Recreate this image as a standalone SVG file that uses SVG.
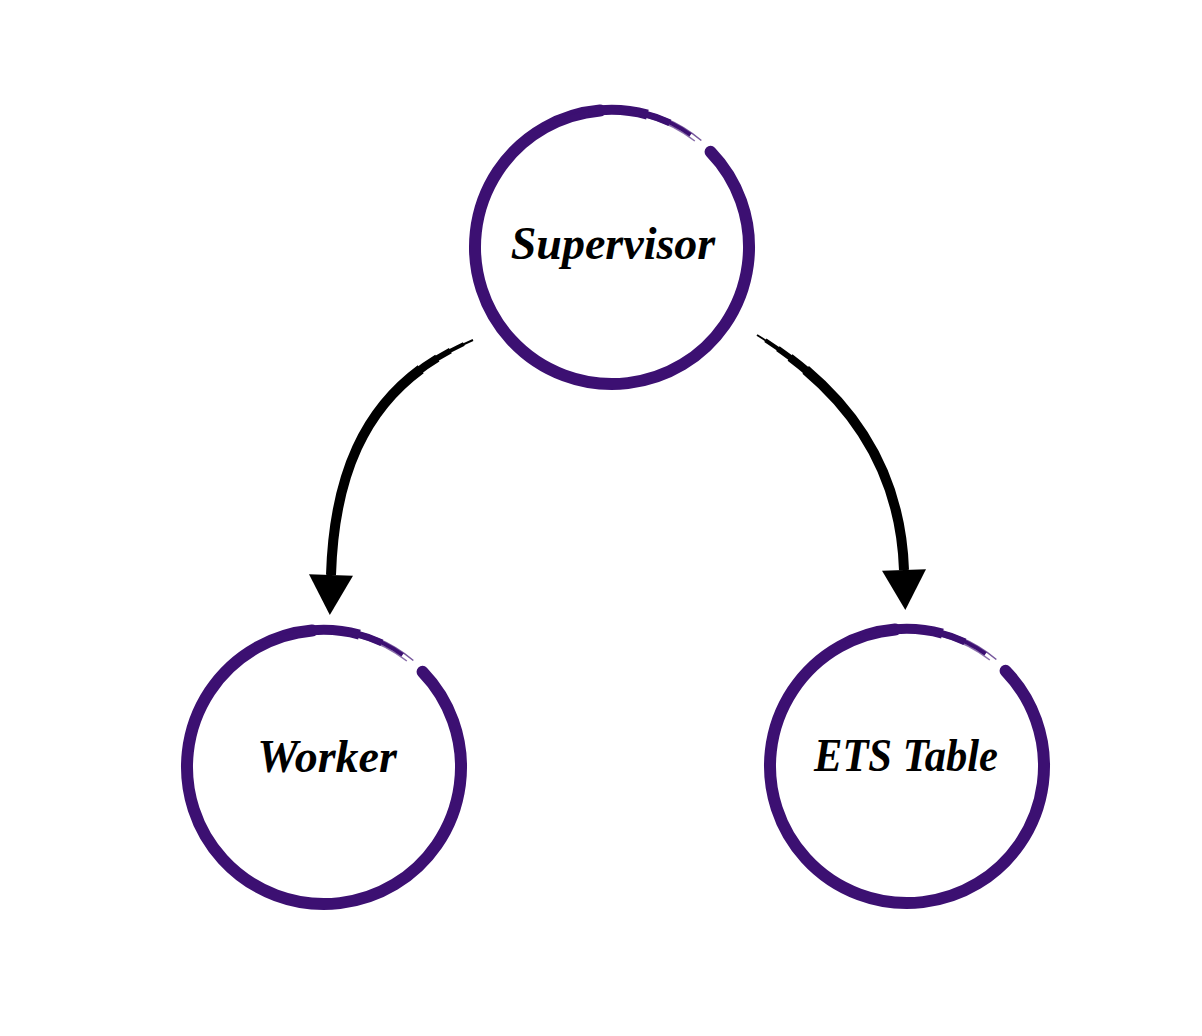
<svg xmlns="http://www.w3.org/2000/svg" xmlns:xlink="http://www.w3.org/1999/xlink" width="1202" height="1036" viewBox="0 0 1202 1036">
<style>
.ring{fill:none;stroke:#3c1072}
.lbl{font-family:"Liberation Serif","DejaVu Serif",serif;font-style:italic;font-weight:bold;font-size:46px;fill:#000;text-anchor:middle}
.arr{fill:none;stroke:#000;stroke-linecap:butt;stroke-dasharray:400 400}
</style>
<defs>
<g id="ringShape">
<path class="ring" stroke-width="12" stroke-linecap="round" d="M 98.55 -95.17 A 137 137 0 1 1 -11.94 -136.48"/>
<path class="ring" stroke-width="10" d="M -46.86 -128.74 A 137 137 0 0 1 35.46 -132.33"/>
<path class="ring" stroke-width="7" d="M -23.79 -134.92 A 137 137 0 0 1 57.9 -124.16"/>
<path class="ring" stroke-width="4" d="M 0 -137 A 137 137 0 0 1 78.58 -112.22"/>
<path class="ring" stroke-width="1.5" stroke-opacity="0.7" d="M -69.5 -120.38 A 139 139 0 0 1 89.35 -106.48"/>
<path class="ring" stroke-width="1.5" stroke-opacity="0.6" d="M -11.72 -133.99 A 134.5 134.5 0 0 1 82.81 -105.99"/>
</g>
<marker id="ah" markerUnits="userSpaceOnUse" markerWidth="48" markerHeight="48" viewBox="0 -24 44 48" refX="0" refY="0" orient="auto">
<path d="M0,-22 L40,0 L0,22 Z" fill="#000"/>
</marker>
</defs>
<rect width="1202" height="1036" fill="#fff"/>
<g id="connectors">
<g id="edge-supervisor-worker">
<path class="arr" stroke-width="2" stroke-dashoffset="800" d="M 473 340 C 390 375, 335 440, 331 575"/>
<path class="arr" stroke-width="4" stroke-dashoffset="790" d="M 473 340 C 390 375, 335 440, 331 575"/>
<path class="arr" stroke-width="6" stroke-dashoffset="775" d="M 473 340 C 390 375, 335 440, 331 575"/>
<path class="arr" stroke-width="8" stroke-dashoffset="760" d="M 473 340 C 390 375, 335 440, 331 575"/>
<path class="arr" stroke-width="10" stroke-dashoffset="740" marker-end="url(#ah)" d="M 473 340 C 390 375, 335 440, 331 575"/>
</g>
<g id="edge-supervisor-ets">
<path class="arr" stroke-width="2" stroke-dashoffset="800" d="M 757 335 C 830 380, 900 450, 904 570"/>
<path class="arr" stroke-width="4" stroke-dashoffset="790" d="M 757 335 C 830 380, 900 450, 904 570"/>
<path class="arr" stroke-width="6" stroke-dashoffset="775" d="M 757 335 C 830 380, 900 450, 904 570"/>
<path class="arr" stroke-width="8" stroke-dashoffset="760" d="M 757 335 C 830 380, 900 450, 904 570"/>
<path class="arr" stroke-width="10" stroke-dashoffset="740" marker-end="url(#ah)" d="M 757 335 C 830 380, 900 450, 904 570"/>
</g>
</g>
<g id="node-supervisor">
<use xlink:href="#ringShape" href="#ringShape" transform="translate(612,247)"/>
<text class="lbl" x="613" y="259">Supervisor</text>
</g>
<g id="node-worker">
<use xlink:href="#ringShape" href="#ringShape" transform="translate(324,767)"/>
<text class="lbl" x="327" y="772">Worker</text>
</g>
<g id="node-ets">
<use xlink:href="#ringShape" href="#ringShape" transform="translate(907,766)"/>
<text class="lbl" x="906" y="771" textLength="184" lengthAdjust="spacingAndGlyphs">ETS Table</text>
</g>
</svg>
